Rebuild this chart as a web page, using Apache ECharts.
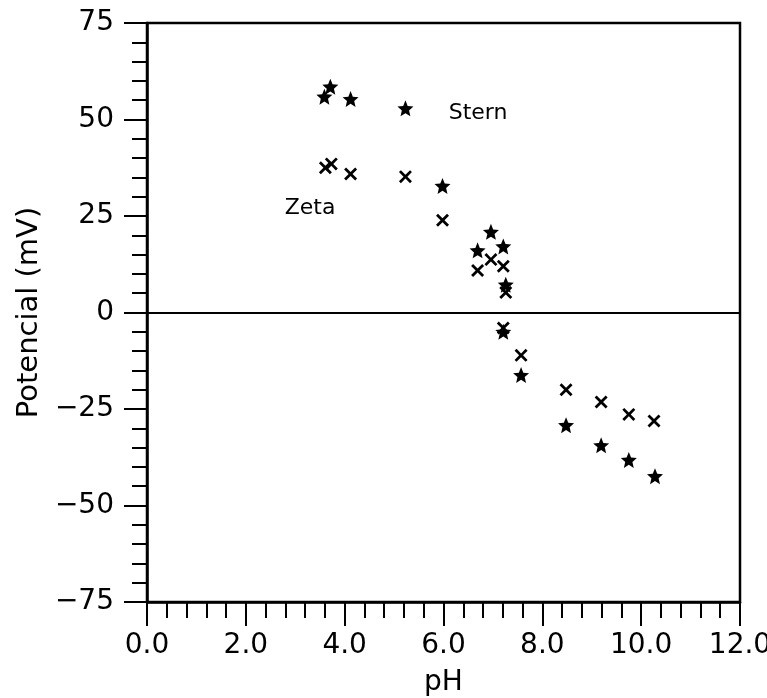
<!DOCTYPE html>
<html>
<head>
<meta charset="utf-8">
<script src="https://cdn.jsdelivr.net/npm/echarts@6/dist/echarts.min.js"></script>
<style>html,body{margin:0;padding:0;background:#fff;}#c{width:767px;height:698px;}</style>
</head>
<body>
<div id="c"></div>
<script>
// Stern potential (stars)
var sternPH = [3.59, 3.71, 4.12, 5.23, 5.98, 6.69, 6.96, 7.21, 7.26, 7.21, 7.57, 8.48, 9.19, 9.75, 10.28];
var sternV  = [55.9, 58.5, 55.3, 52.9, 32.8, 16.1, 20.9, 17.1, 7.2, -5.0, -16.2, -29.2, -34.4, -38.2, -42.4];
// Zeta potential (crosses)
var zetaPH = [3.61, 3.73, 4.12, 5.23, 5.98, 6.69, 6.96, 7.21, 7.26, 7.21, 7.57, 8.48, 9.19, 9.75, 10.26];
var zetaV  = [37.5, 38.5, 35.9, 35.2, 23.9, 10.9, 13.7, 12.0, 5.2, -4.0, -11.1, -20.0, -23.2, -26.4, -28.1];
// annotations
var annotTexts = ['Stern', 'Zeta'];
var annotPH = [6.7, 3.3];
var annotV = [51.7, 27];

var FONT = 'DejaVu Sans';
var starPath = 'path://M10,0 L12.65,6.36 L19.51,6.91 L14.28,11.39 L15.88,18.09 L10,14.5 L4.12,18.09 L5.72,11.39 L0.49,6.91 L7.35,6.36 Z';
var crossPath = 'path://M0,3 L3,0 L10,7 L17,0 L20,3 L13,10 L20,17 L17,20 L10,13 L3,20 L0,17 L7,10 Z';

function zip(a, b) { return a.map(function (v, i) { return [v, b[i]]; }); }

var chart = echarts.init(document.getElementById('c'));
chart.setOption({
  animation: false,
  backgroundColor: '#fff',
  grid: { left: 147, right: 27, top: 23, bottom: 96, containLabel: false, outerBoundsMode: 'none',
          show: true, borderColor: '#000', borderWidth: 2.5, backgroundColor: 'transparent' },
  xAxis: {
    type: 'value', min: 0, max: 12, interval: 2,
    name: 'pH', nameLocation: 'middle', nameGap: 67,
    nameTextStyle: { fontFamily: FONT, fontSize: 28, color: '#000' },
    axisLine: { show: true, onZero: false, lineStyle: { color: '#000', width: 2.5 } },
    axisTick: { show: true, inside: false, length: 24, lineStyle: { color: '#000', width: 2 } },
    minorTick: { show: true, splitNumber: 5, length: 16, lineStyle: { color: '#000', width: 2 } },
    splitLine: { show: false },
    axisLabel: { fontFamily: FONT, fontSize: 28, color: '#000', margin: 30, formatter: function (v) { return v.toFixed(1); } }
  },
  yAxis: {
    type: 'value', min: -75, max: 75, interval: 25,
    name: 'Potencial (mV)', nameLocation: 'middle', nameGap: 100, nameRotate: 90,
    nameTextStyle: { fontFamily: FONT, fontSize: 29, color: '#000' },
    axisLine: { show: true, onZero: false, lineStyle: { color: '#000', width: 2.5 } },
    axisTick: { show: true, inside: false, length: 23, lineStyle: { color: '#000', width: 2 } },
    minorTick: { show: true, splitNumber: 5, length: 15, lineStyle: { color: '#000', width: 2 } },
    splitLine: { show: false },
    axisLabel: { fontFamily: FONT, fontSize: 28, color: '#000', margin: 33, formatter: function (v) { return v < 0 ? '\u2212' + Math.abs(v) : String(v); } }
  },
  series: [
    {
      name: 'Stern', type: 'scatter', symbol: starPath, symbolSize: 16,
      itemStyle: { color: '#000', opacity: 1 },
      data: zip(sternPH, sternV),
      markLine: {
        silent: true, symbol: 'none', label: { show: false },
        lineStyle: { color: '#000', width: 2, type: 'solid', opacity: 1 },
        data: [{ yAxis: 0 }]
      }
    },
    {
      name: 'Zeta', type: 'scatter', symbol: crossPath, symbolSize: 13,
      itemStyle: { color: '#000', opacity: 1 },
      data: zip(zetaPH, zetaV)
    },
    {
      name: 'labels', type: 'scatter', symbolSize: 0, silent: true,
      data: annotTexts.map(function (t, i) { return { value: [annotPH[i], annotV[i]], name: t }; }),
      label: { show: true, position: 'inside', formatter: '{b}', fontFamily: FONT, fontSize: 22, color: '#000', opacity: 1 }
    }
  ]
});
</script>
</body>
</html>
